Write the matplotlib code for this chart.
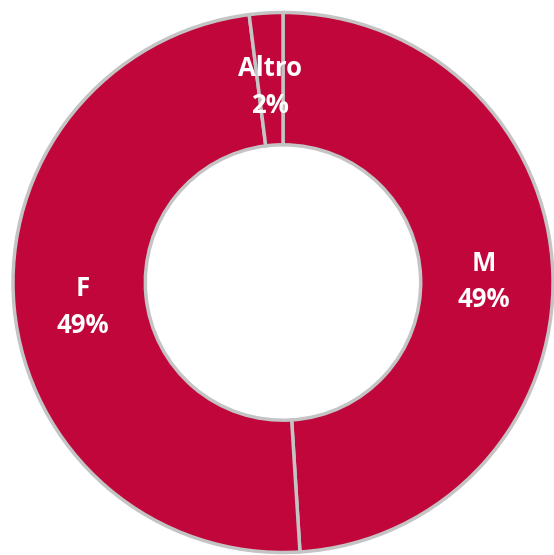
import matplotlib
matplotlib.use("Agg")
import matplotlib.pyplot as plt
import numpy as np

categories = ["M", "F", "Altro"]
values = [49, 49, 2]
pct_labels = ["49%", "49%", "2%"]

fig = plt.figure(figsize=(5.54, 5.55), dpi=100)
ax = fig.add_axes([0, 0, 1, 1])
ax.set_axis_off()

R = 270.0
cx, cy = 283.0, 282.5
W, H = 554.0, 555.0

wedges, _ = ax.pie(values, startangle=90, counterclock=False, radius=1.0,
                   colors=["#C0063A"] * 3,
                   wedgeprops=dict(width=0.49, edgecolor="#c4c4c4", linewidth=2.5))

for w, cat, pct in zip(wedges, categories, pct_labels):
    th = np.deg2rad((w.theta1 + w.theta2) / 2)
    r = 0.745
    x, y = r * np.cos(th), r * np.sin(th) - 0.02
    ax.text(x, y, f"{cat}\n{pct}", ha="center", va="center", color="white",
            fontsize=18.5, fontweight="bold", family="Open Sans", linespacing=1.45)

ax.set_xlim(-cx / R, (W - cx) / R)
ax.set_ylim(-(H - cy) / R, cy / R)
ax.set_aspect("auto")

fig.savefig("out.png", dpi=100)
